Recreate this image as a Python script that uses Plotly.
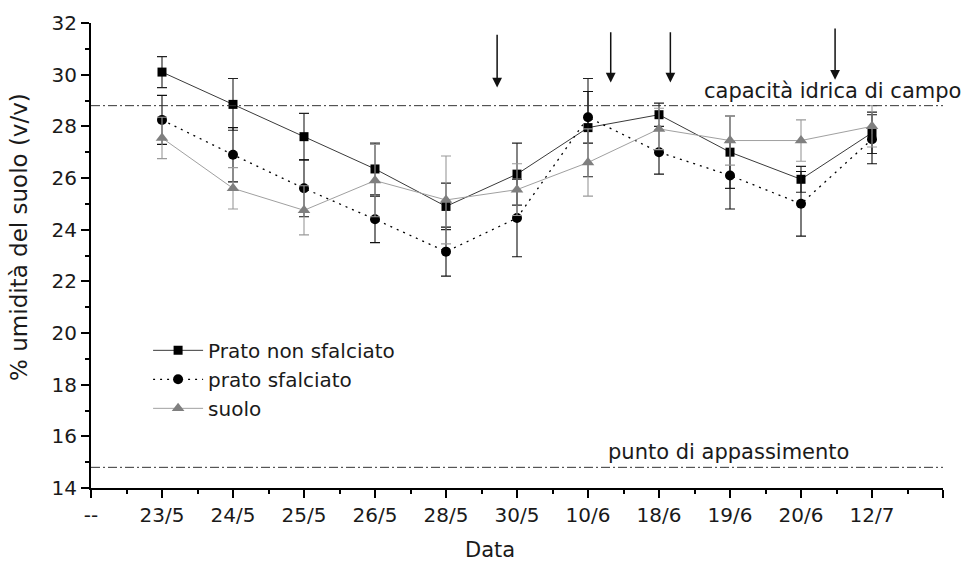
import plotly.graph_objects as go

dates = ["23/5", "24/5", "25/5", "26/5", "28/5", "30/5", "10/6", "18/6", "19/6", "20/6", "12/7"]
tick_labels = ["--"] + dates + [""]

non_sfalciato = [30.1, 28.85, 27.6, 26.35, 24.9, 26.15, 27.95, 28.45, 27.0, 25.95, 27.75]
non_sfalciato_err = [0.6, 1.0, 0.9, 1.0, 0.9, 1.2, 1.9, 0.45, 1.4, 0.5, 0.8]

sfalciato = [28.25, 26.9, 25.6, 24.4, 23.15, 24.45, 28.35, 27.0, 26.1, 25.0, 27.5]
sfalciato_err = [0.95, 1.05, 1.1, 0.9, 0.95, 1.5, 1.0, 0.85, 1.3, 1.25, 0.95]

suolo = [27.55, 25.6, 24.75, 25.9, 25.15, 25.55, 26.6, 27.9, 27.45, 27.45, 28.0]
suolo_err = [0.8, 0.8, 0.95, 1.4, 1.7, 1.0, 1.3, 0.8, 0.95, 0.8, 0.8]

capacita = 28.8
appassimento = 14.8

arrow_x = [5.72, 7.32, 8.16, 10.48]
arrow_top = [31.6, 31.7, 31.7, 31.85]
arrow_bottom = [29.5, 29.7, 29.7, 29.8]

xpos = list(range(1, len(dates) + 1))
FONT = "DejaVu Sans, Liberation Sans, Arial, sans-serif"
TXT = "#1a1a1a"

fig = go.Figure()

fig.add_trace(go.Scatter(
    x=xpos, y=non_sfalciato, name="Prato non sfalciato", mode="lines+markers",
    line=dict(color="#3a3a3a", width=1),
    marker=dict(symbol="square", size=9, color="black"),
    error_y=dict(type="data", array=non_sfalciato_err, color="#222222", thickness=1.1, width=5),
))
fig.add_trace(go.Scatter(
    x=xpos, y=sfalciato, name="prato sfalciato", mode="lines+markers",
    line=dict(color="black", width=1.3, dash="2px,5px"),
    marker=dict(symbol="circle", size=10, color="black"),
    error_y=dict(type="data", array=sfalciato_err, color="#111111", thickness=1.1, width=5),
))
fig.add_trace(go.Scatter(
    x=xpos, y=suolo, name="suolo", mode="lines+markers",
    line=dict(color="#a0a0a0", width=1),
    marker=dict(symbol="triangle-up", size=11, color="#7f7f7f"),
    error_y=dict(type="data", array=suolo_err, color="#9a9a9a", thickness=1.1, width=5),
))

for yv in (capacita, appassimento):
    fig.add_shape(type="line", xref="paper", x0=0, x1=1, yref="y", y0=yv, y1=yv,
                  line=dict(color="#333333", width=1, dash="9px,3px,2px,3px"))

fig.add_annotation(x=1.023, xref="paper", y=capacita, yref="y", text="capacità idrica di campo",
                   showarrow=False, xanchor="right", yanchor="bottom", yshift=1,
                   font=dict(family=FONT, size=21, color=TXT))
fig.add_annotation(x=0.892, xref="paper", y=appassimento, yref="y", text="punto di appassimento",
                   showarrow=False, xanchor="right", yanchor="bottom", yshift=1,
                   font=dict(family=FONT, size=21, color=TXT))

# axis titles placed as in the reference (offset from the plot centre)
fig.add_annotation(x=0.468, xref="paper", y=-0.133, yref="paper", text="Data",
                   showarrow=False, xanchor="center", yanchor="middle",
                   font=dict(family=FONT, size=21, color=TXT))
fig.add_annotation(x=-0.0845, xref="paper", y=0.54, yref="paper", text="% umidità del suolo (v/v)",
                   showarrow=False, xanchor="center", yanchor="middle", textangle=-90,
                   font=dict(family=FONT, size=23, color=TXT))

for ax_, yt, yb in zip(arrow_x, arrow_top, arrow_bottom):
    fig.add_annotation(x=ax_, y=yb, xref="x", yref="y", ax=ax_, ay=yt, axref="x", ayref="y",
                       text="", showarrow=True, arrowhead=2, arrowsize=1.3, arrowwidth=1.5,
                       arrowcolor="#111111")

fig.update_layout(
    width=969, height=562,
    margin=dict(l=91, r=26, t=23, b=74),
    paper_bgcolor="white", plot_bgcolor="white",
    font=dict(family=FONT, size=20, color=TXT),
    showlegend=True,
    legend=dict(x=0.067, y=0.338, xanchor="left", yanchor="top",
                bgcolor="rgba(0,0,0,0)", font=dict(family=FONT, size=20, color=TXT),
                tracegroupgap=0, itemwidth=50),
    xaxis=dict(
        range=[0, 12], tickmode="array", tickvals=list(range(0, 13)), ticktext=tick_labels,
        showgrid=False, zeroline=False, showline=True, linecolor="black", linewidth=2,
        ticks="outside", ticklen=8, tickwidth=2, tickcolor="black",
        minor=dict(tickmode="array", tickvals=[i + 0.5 for i in range(12)], ticks="outside",
                   ticklen=4, tickwidth=2, tickcolor="black"),
        tickfont=dict(size=20, color=TXT),
    ),
    yaxis=dict(
        range=[14, 32], tickmode="array", tickvals=list(range(14, 33, 2)),
        showgrid=False, zeroline=False, showline=True, linecolor="black", linewidth=2,
        ticks="outside", ticklen=8, tickwidth=2, tickcolor="black",
        minor=dict(tickmode="array", tickvals=list(range(15, 32, 2)), ticks="outside",
                   ticklen=4, tickwidth=2, tickcolor="black"),
        tickfont=dict(size=20, color=TXT),
    ),
)

fig.write_html("out.html")
